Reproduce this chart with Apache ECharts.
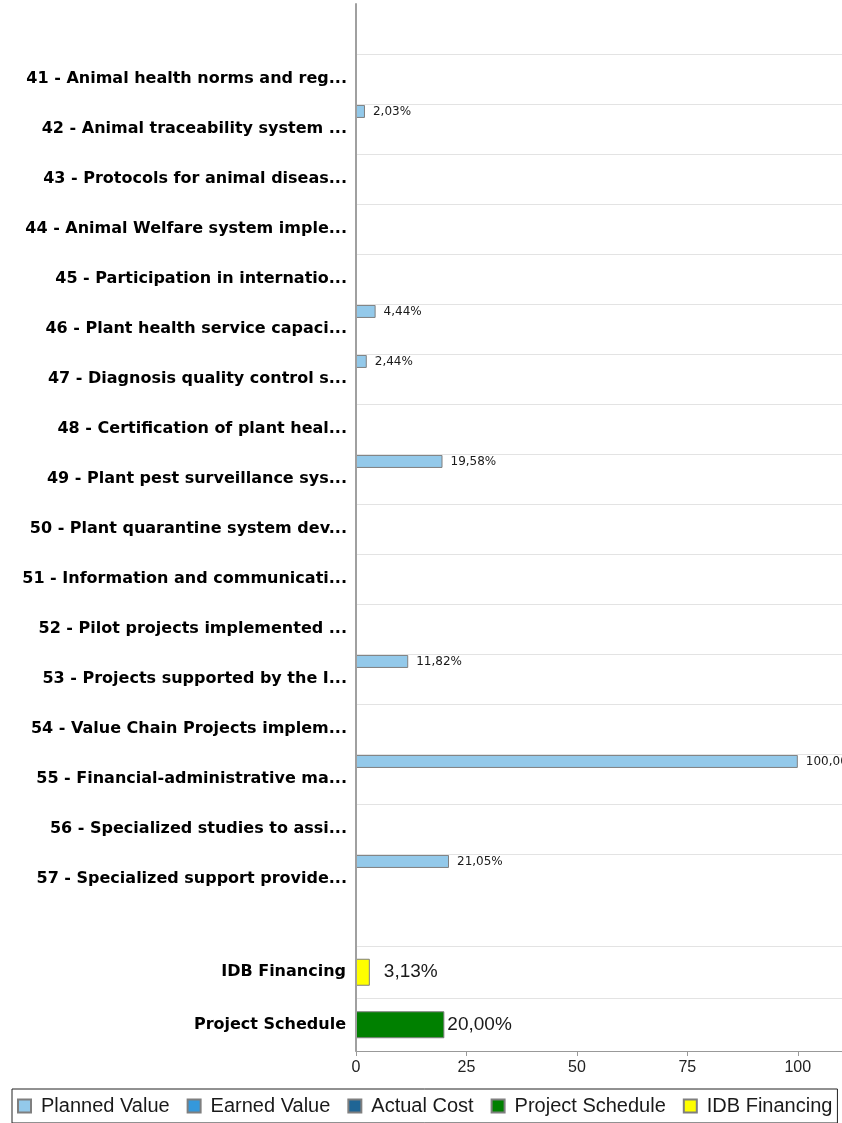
<!DOCTYPE html>
<html>
<head>
<meta charset="utf-8">
<script src="https://cdn.jsdelivr.net/npm/echarts@6/dist/echarts.min.js"></script>
<style>
  html, body { margin: 0; padding: 0; background: #fff; }
  #chart { width: 842px; height: 1123px; }
</style>
</head>
<body>
<div id="chart"></div>
<script>
// ---- data ----
const categories = [
  "41 - Animal health norms and reg...",
  "42 - Animal traceability system ...",
  "43 - Protocols for animal diseas...",
  "44 - Animal Welfare system imple...",
  "45 - Participation in internatio...",
  "46 - Plant health service capaci...",
  "47 - Diagnosis quality control s...",
  "48 - Certification of plant heal...",
  "49 - Plant pest surveillance sys...",
  "50 - Plant quarantine system dev...",
  "51 - Information and communicati...",
  "52 - Pilot projects implemented ...",
  "53 - Projects supported by the I...",
  "54 - Value Chain Projects implem...",
  "55 - Financial-administrative ma...",
  "56 - Specialized studies to assi...",
  "57 - Specialized support provide..."
];
const plannedValue = [0, 2.03, 0, 0, 0, 4.44, 2.44, 0, 19.58, 0, 0, 0, 11.82, 0, 100.00, 0, 21.05];
const earnedValue  = [0, 0, 0, 0, 0, 0, 0, 0, 0, 0, 0, 0, 0, 0, 0, 0, 0];
const actualCost   = [0, 0, 0, 0, 0, 0, 0, 0, 0, 0, 0, 0, 0, 0, 0, 0, 0];

const summaryCategories = ["IDB Financing", "Project Schedule"];
const projectSchedule = [null, 20.00];
const idbFinancing    = [3.13, null];

const xMin = 0, xMax = 110, xInterval = 25;

// ---- build ----
const topCats = [''].concat(categories, ['']);
const pad = arr => [null].concat(arr, [null]);

const fmt = p => (p.value != null && p.value > 0) ? p.value.toFixed(2).replace('.', ',') + '%' : '';

const BORDER = '#7f7f7f';
const smallLabel = { show: true, position: 'right', distance: 8, formatter: fmt,
  fontFamily: 'DejaVu Sans', fontSize: 12, color: '#1a1a1a' };
const bigLabel = d => ({ show: true, position: 'right', distance: d, formatter: fmt,
  fontFamily: 'Liberation Sans', fontSize: 19, color: '#1a1a1a' });

const chart = echarts.init(document.getElementById('chart'), null, { renderer: 'canvas' });
chart.setOption({
  animation: false,
  backgroundColor: '#fff',
  grid: [
    { left: 356, right: 0, top: 4, height: 950 },
    { left: 356, right: 0, top: 946, height: 105 }
  ],
  xAxis: [
    { gridIndex: 0, type: 'value', min: xMin, max: xMax, interval: xInterval, show: false, splitLine: { show: false } },
    { gridIndex: 1, type: 'value', min: xMin, max: xMax, interval: xInterval,
      axisLine: { show: true, lineStyle: { color: '#999', width: 1 } },
      axisTick: { show: true, length: 5, lineStyle: { color: '#999' } },
      splitLine: { show: false },
      axisLabel: { fontFamily: 'Liberation Sans', fontSize: 16, color: '#222', margin: 9, showMaxLabel: false } }
  ],
  yAxis: [
    { gridIndex: 0, type: 'category', data: topCats, inverse: true, z: 10,
      axisLine: { show: true, lineStyle: { color: '#a0a0a0', width: 2 } },
      axisTick: { show: false },
      axisLabel: { fontFamily: 'DejaVu Sans', fontWeight: 'bold', fontSize: 16, color: '#000', margin: 9,
                   padding: [0, 0, 6, 0], interval: 0 },
      splitLine: { show: true, showMinLine: true, showMaxLine: false,
                   interval: (i) => i >= 1 && i <= categories.length,
                   lineStyle: { color: '#e3e3e3', width: 1 } } },
    { gridIndex: 1, type: 'category', data: summaryCategories, inverse: true, z: 10,
      axisLine: { show: true, lineStyle: { color: '#a0a0a0', width: 2 } },
      axisTick: { show: false },
      axisLabel: { fontFamily: 'DejaVu Sans', fontWeight: 'bold', fontSize: 16, color: '#000', margin: 10, interval: 0 },
      splitLine: { show: true, showMinLine: true, showMaxLine: false, lineStyle: { color: '#e3e3e3', width: 1 } } }
  ],
  legend: {
    left: 12, top: 1089,
    data: ['Planned Value', 'Earned Value', 'Actual Cost', 'Project Schedule', 'IDB Financing'],
    icon: 'rect', itemWidth: 13, itemHeight: 13, itemGap: 17,
    padding: [7, 5, 7, 5],
    borderColor: '#222', borderWidth: 1,
    textStyle: { fontFamily: 'Liberation Sans', fontSize: 20, color: '#1a1a1a', padding: [0, 0, 0, 5] }
  },
  series: [
    { name: 'Planned Value', type: 'bar', xAxisIndex: 0, yAxisIndex: 0, data: pad(plannedValue),
      barWidth: 13, barGap: '35%',
      itemStyle: { color: '#93c9ea', borderColor: BORDER, borderWidth: 1 }, label: smallLabel },
    { name: 'Earned Value', type: 'bar', xAxisIndex: 0, yAxisIndex: 0, data: pad(earnedValue),
      barWidth: 13, barGap: '35%',
      itemStyle: { color: '#3598db', borderColor: BORDER, borderWidth: 1 }, label: smallLabel },
    { name: 'Actual Cost', type: 'bar', xAxisIndex: 0, yAxisIndex: 0, data: pad(actualCost),
      barWidth: 13, barGap: '35%',
      itemStyle: { color: '#1f6595', borderColor: BORDER, borderWidth: 1 }, label: smallLabel },
    { name: 'Project Schedule', type: 'bar', xAxisIndex: 1, yAxisIndex: 1, data: projectSchedule,
      barWidth: 27, barGap: '-100%',
      itemStyle: { color: '#008000', borderColor: BORDER, borderWidth: 1 }, label: bigLabel(3) },
    { name: 'IDB Financing', type: 'bar', xAxisIndex: 1, yAxisIndex: 1, data: idbFinancing,
      barWidth: 27, barGap: '-100%',
      itemStyle: { color: '#ffff00', borderColor: BORDER, borderWidth: 1 }, label: bigLabel(14) }
  ]
});
</script>
</body>
</html>
